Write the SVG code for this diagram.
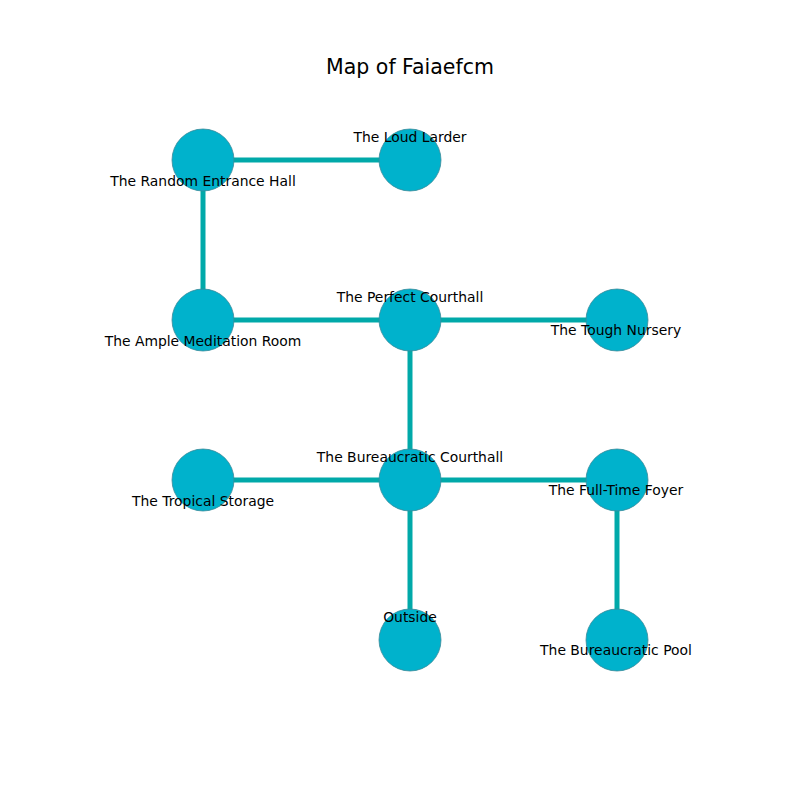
<svg xmlns="http://www.w3.org/2000/svg" width="800" height="800" viewBox="0 0 800 800">
<style>
.n{fill:#00b2cc;stroke:#3a8a99;stroke-width:0.8}
.e{stroke:#00a9a9;stroke-width:5;fill:none}
.l{font-family:"DejaVu Sans",sans-serif;font-size:13.9px;fill:#000;text-anchor:middle;dominant-baseline:central}
.t{font-family:"DejaVu Sans",sans-serif;font-size:20.5px;fill:#000;text-anchor:middle}
</style>
<rect width="800" height="800" fill="#fff"/>
<text class="t" x="410" y="73.5">Map of Faiaefcm</text>
<g id="connectors">
<line class="e" x1="203" y1="160" x2="410" y2="160"/>
<line class="e" x1="203" y1="160" x2="203" y2="320"/>
<line class="e" x1="203" y1="320" x2="410" y2="320"/>
<line class="e" x1="410" y1="320" x2="617" y2="320"/>
<line class="e" x1="410" y1="320" x2="410" y2="480"/>
<line class="e" x1="203" y1="480" x2="410" y2="480"/>
<line class="e" x1="410" y1="480" x2="617" y2="480"/>
<line class="e" x1="410" y1="480" x2="410" y2="640"/>
<line class="e" x1="617" y1="480" x2="617" y2="640"/>
</g>
<g id="random-entrance-hall"><circle class="n" cx="203" cy="160" r="31"/><text class="l" x="203" y="181">The Random Entrance Hall</text></g>
<g id="loud-larder"><circle class="n" cx="410" cy="160" r="31"/><text class="l" x="410" y="137">The Loud Larder</text></g>
<g id="ample-meditation-room"><circle class="n" cx="203" cy="320" r="31"/><text class="l" x="203" y="341">The Ample Meditation Room</text></g>
<g id="perfect-courthall"><circle class="n" cx="410" cy="320" r="31"/><text class="l" x="410" y="297">The Perfect Courthall</text></g>
<g id="tough-nursery"><circle class="n" cx="617" cy="320" r="31"/><text class="l" x="616" y="330">The Tough Nursery</text></g>
<g id="tropical-storage"><circle class="n" cx="203" cy="480" r="31"/><text class="l" x="203" y="501">The Tropical Storage</text></g>
<g id="bureaucratic-courthall"><circle class="n" cx="410" cy="480" r="31"/><text class="l" x="410" y="457">The Bureaucratic Courthall</text></g>
<g id="full-time-foyer"><circle class="n" cx="617" cy="480" r="31"/><text class="l" x="616" y="490">The Full-Time Foyer</text></g>
<g id="outside"><circle class="n" cx="410" cy="640" r="31"/><text class="l" x="410" y="617">Outside</text></g>
<g id="bureaucratic-pool"><circle class="n" cx="617" cy="640" r="31"/><text class="l" x="616" y="650">The Bureaucratic Pool</text></g>
</svg>
